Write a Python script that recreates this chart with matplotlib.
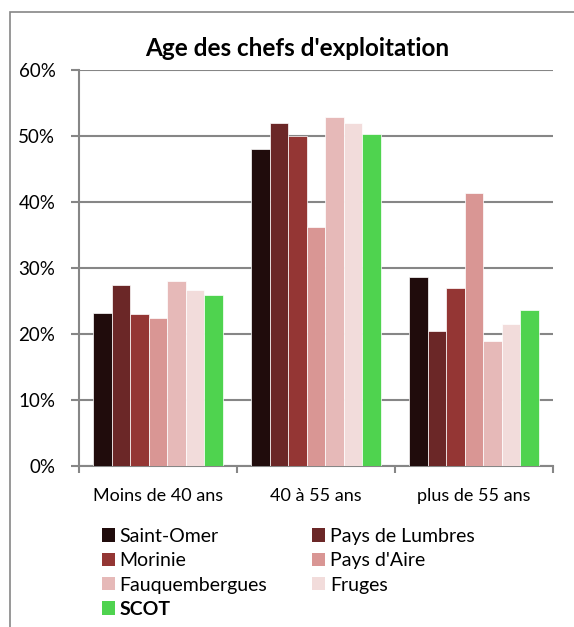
import numpy as np
import matplotlib
matplotlib.use('Agg')
import matplotlib.pyplot as plt
from matplotlib.patches import Rectangle, Patch
from matplotlib.ticker import PercentFormatter

# Data
categories = ['Moins de 40 ans', '40 à 55 ans', 'plus de 55 ans']
series_names = ['Saint-Omer', 'Pays de Lumbres', 'Morinie', "Pays d'Aire",
                'Fauquembergues', 'Fruges', 'SCOT']
saint_omer = [23.2, 48.0, 28.6]
lumbres = [27.5, 52.0, 20.4]
morinie = [23.0, 50.0, 26.9]
pays_aire = [22.4, 36.2, 41.3]
fauquembergues = [28.0, 52.9, 19.0]
fruges = [26.6, 51.9, 21.5]
scot = [25.9, 50.3, 23.7]
series_values = [saint_omer, lumbres, morinie, pays_aire, fauquembergues, fruges, scot]
colors = ['#200c0c', '#6b2727', '#943634', '#d99694', '#e6b9b8', '#f2dcdb', '#4fd34f']
y_ticks = [0, 10, 20, 30, 40, 50, 60]

plt.rcParams['font.family'] = ['Lato', 'DejaVu Sans']
grey = '#868686'

fig = plt.figure(figsize=(5.74, 6.27), dpi=100)
# outer chart border (cut at right/bottom in the reference)
fig.patches.append(Rectangle((10 / 574, -0.1), 1.1, 1 - 12 / 627 + 0.1, transform=fig.transFigure,
                             fill=False, edgecolor=grey, linewidth=1.2))

ax = fig.add_axes([79 / 574, 161 / 627, 474 / 574, 396 / 627])
n = len(series_values)
bar_w = 0.823 / n
x = np.arange(len(categories))
for i, (vals, col) in enumerate(zip(series_values, colors)):
    ax.bar(x - 0.823 / 2 + bar_w * (i + 0.5), vals, bar_w, color=col,
           edgecolor='white', linewidth=0.5, zorder=3)

ax.set_xlim(-0.5, len(categories) - 0.5)
ax.set_ylim(0, 60)
ax.set_yticks(y_ticks)
ax.yaxis.set_major_formatter(PercentFormatter(decimals=0))
ax.grid(axis='y', color=grey, linewidth=1.5, zorder=0)
for s in ['top', 'right']:
    ax.spines[s].set_visible(False)
for s in ['left', 'bottom']:
    ax.spines[s].set_color(grey)
    ax.spines[s].set_linewidth(1.5)

ax.set_xticks(x)
ax.set_xticklabels(categories, fontsize=13)
ax.set_xticks(np.arange(-0.5, len(categories), 1), minor=True)
ax.tick_params(axis='x', which='major', length=0, pad=16)
ax.tick_params(axis='x', which='minor', length=5, width=1.5, color=grey)
ax.tick_params(axis='y', length=6, width=1.5, color=grey, labelsize=13.5, pad=11)

fig.text(297 / 574, 1 - 48 / 627, "Age des chefs d'exploitation", ha='center', va='center',
         fontsize=17.5, fontweight='bold')

# legend, row-major order like the reference
handles = [Patch(facecolor=c) for c in colors]
order = [0, 2, 4, 6, 1, 3, 5]
leg = fig.legend([handles[k] for k in order], [series_names[k] for k in order],
                 loc='upper left', bbox_to_anchor=(92 / 574, 1 - 518 / 627), ncol=2,
                 frameon=False, fontsize=14, handlelength=0.67, handleheight=0.67,
                 handletextpad=0.25, labelspacing=0.38, columnspacing=2.3, borderpad=0)
for t in leg.get_texts():
    if t.get_text() == 'SCOT':
        t.set_fontweight('bold')

fig.savefig('out.png', dpi=100)
